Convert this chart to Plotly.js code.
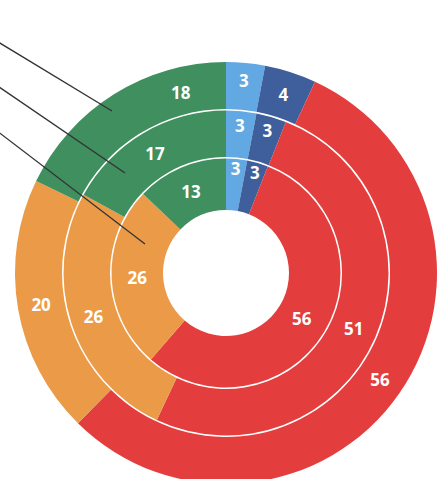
<!DOCTYPE html>
<html>
<head>
<meta charset="utf-8">
<script src="https://cdn.plot.ly/plotly-3.0.1.min.js"></script>
<style>
html, body { margin: 0; padding: 0; overflow: hidden; background: #ffffff; }
#chart { width: 437px; height: 490px; }
</style>
</head>
<body>
<div id="chart"></div>
<script>
// Data
const categories = ['Light blue', 'Dark blue', 'Red', 'Orange', 'Green'];
const outerValues = [3, 4, 56, 20, 18];
const middleValues = [3, 3, 51, 26, 17];
const innerValues = [3, 3, 56, 26, 13];
const sliceColors = ['#62a8e2', '#3f5e9c', '#e43d3d', '#eb9b47', '#3f8f5f'];

const W = 437, H = 490;
const CX = 226, CY = 273;
function dom(r) {
  return {
    x: [(CX - r) / W, Math.min(1, (CX + r) / W)],
    y: [(H - (CY + r)) / H, (H - (CY - r)) / H]
  };
}
// index of the outer-ring label that is drawn as a separate annotation (offset label)
const offsetLabelIndex = 4;
const rings = [
  { name: 'outer', values: outerValues, r: 211, inner: 164, skip: offsetLabelIndex },
  { name: 'middle', values: middleValues, r: 162.5, inner: 116, skip: -1 },
  { name: 'inner', values: innerValues, r: 114.5, inner: 63, skip: -1 }
];

const textFont = { family: 'Open Sans, sans-serif', size: 17, color: '#ffffff', weight: 'bold' };

const traces = rings.map(function (ring) {
  return {
    type: 'pie',
    name: ring.name,
    labels: categories,
    values: ring.values,
    text: ring.values.map(function (v, i) { return i === ring.skip ? '' : String(v); }),
    textinfo: 'text',
    domain: dom(ring.r),
    hole: ring.inner / ring.r,
    sort: false,
    direction: 'clockwise',
    rotation: 0,
    textposition: 'inside',
    insidetextorientation: 'horizontal',
    insidetextfont: textFont,
    marker: { colors: sliceColors, line: { width: 0 } },
    hoverinfo: 'none',
    showlegend: false
  };
});

function px2paper(x, y) { return [x / W, (H - y) / H]; }
const leaderLines = [
  [[-20, 31], [112, 111]],
  [[-20, 74], [125, 173]],
  [[-20, 118], [145, 244]]
];
const shapes = leaderLines.map(function (l) {
  const a = px2paper(l[0][0], l[0][1]);
  const b = px2paper(l[1][0], l[1][1]);
  return {
    type: 'line', xref: 'paper', yref: 'paper',
    x0: a[0], y0: a[1], x1: b[0], y1: b[1],
    line: { color: '#333333', width: 1.3 }
  };
});

const lblPos = px2paper(181, 92);
const annotations = [{
  xref: 'paper', yref: 'paper', x: lblPos[0], y: lblPos[1],
  xanchor: 'center', yanchor: 'middle',
  text: String(outerValues[offsetLabelIndex]),
  showarrow: false,
  font: textFont
}];

const layout = {
  width: W,
  height: H,
  margin: { l: 0, r: 0, t: 0, b: 0 },
  paper_bgcolor: '#ffffff',
  uniformtext: { minsize: 17, mode: 'show' },
  shapes: shapes,
  annotations: annotations,
  showlegend: false
};

Plotly.newPlot('chart', traces, layout, { displayModeBar: false, staticPlot: true });
</script>
</body>
</html>
